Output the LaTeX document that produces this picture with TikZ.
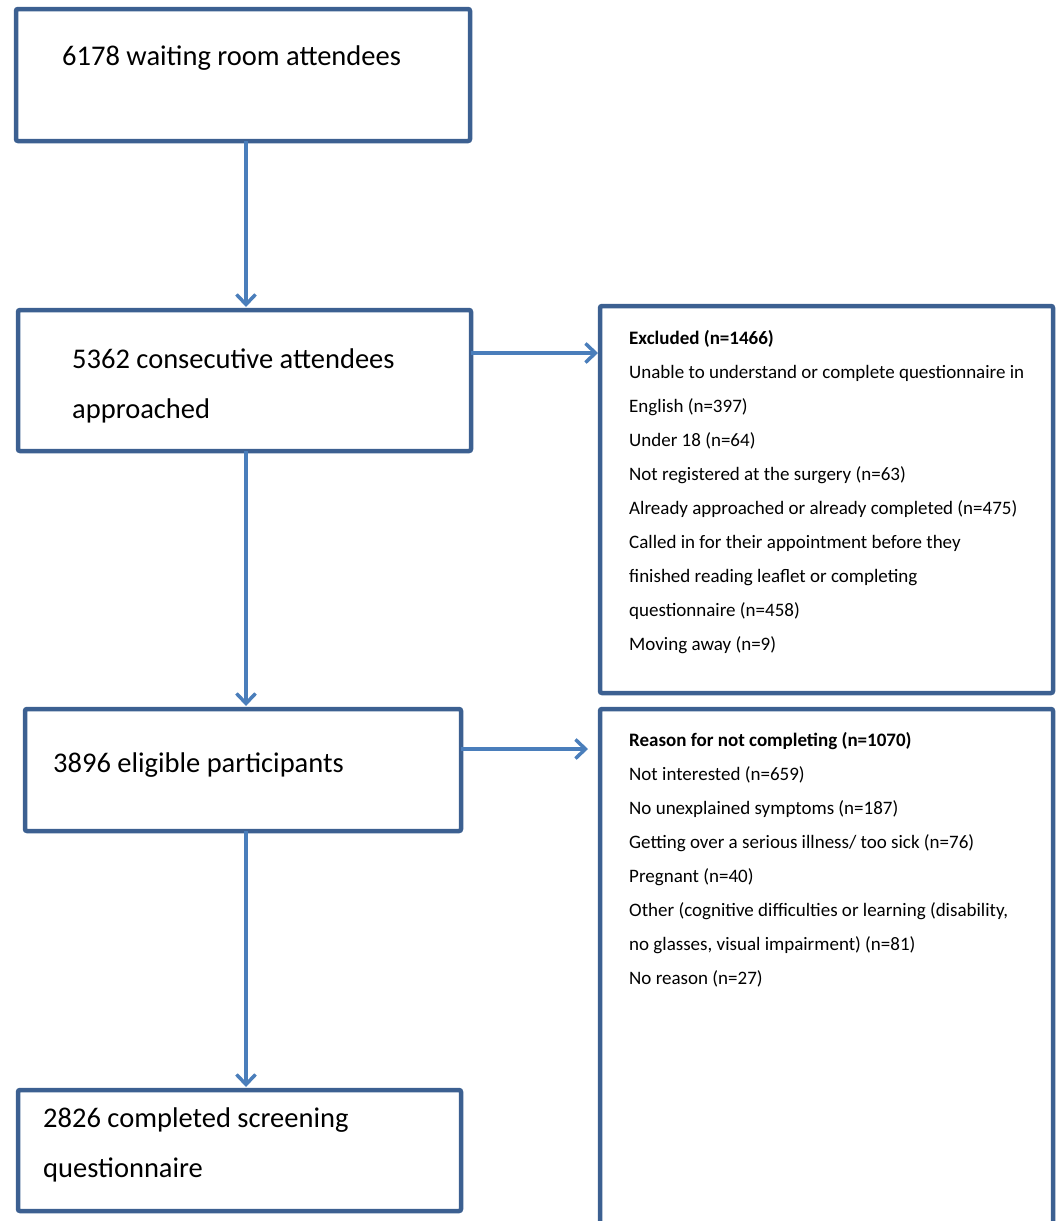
\documentclass[tikz,border=0pt]{standalone}
\usepackage{fontspec}
\setmainfont{Carlito}
\usetikzlibrary{arrows.meta}
\definecolor{boxblue}{RGB}{60,96,145}
\definecolor{arrowblue}{RGB}{74,126,187}
\tikzstyle{box}=[rectangle, draw=boxblue, line width=4.5pt,
                 rounded corners=2pt, inner sep=0pt, outer sep=0pt]
\tikzstyle{edge}=[draw=arrowblue, line width=3.5pt,
                  -{Straight Barb[length=10pt,width=19pt]}]
\tikzstyle{big}=[anchor=base west, inner sep=0pt,
                 font=\fontsize{28.5}{50}\selectfont]
\tikzstyle{small}=[anchor=base west, inner sep=0pt,
                   font=\fontsize{19}{34}\selectfont]
\begin{document}
\begin{tikzpicture}[x=1pt, y=-1pt]
    \useasboundingbox (0,0) rectangle (1063,1221);

    % main flow
    \node (att) at (243,75)      [box, minimum width=454, minimum height=132]{};
    \node (appr) at (244.5,380.5) [box, minimum width=453, minimum height=141]{};
    \node (elig) at (243,770)    [box, minimum width=436, minimum height=122]{};
    \node (done) at (239.5,1150.5) [box, minimum width=443, minimum height=121]{};

    % side boxes
    \node (excl) at (826.5,499.5) [box, minimum width=453, minimum height=387]{};
    \node (why) at (826.5,974.5)  [box, minimum width=453, minimum height=531]{};

    \node (attT) at (62,65) [big]{6178 waiting room attendees};
    \node (apprT) at (72,368) [big]{5362 consecutive attendees};
    \node (apprU) at (72,418) [big]{approached};
    \node (eligT) at (53,772) [big]{3896 eligible participants};
    \node (doneT) at (43,1127) [big]{2826 completed screening};
    \node (doneU) at (43,1177) [big]{questionnaire};

    \node (exclH) at (629,344) [small]{\bfseries Excluded (n=1466)};
    \foreach \t [count=\i from 0] in {Unable to understand or complete questionnaire in,
        English (n=397), Under 18 (n=64), Not registered at the surgery (n=63),
        Already approached or already completed (n=475),
        Called in for their appointment before they,
        finished reading leaflet or completing, questionnaire (n=458),
        Moving away (n=9)}
      \node (excl\i) at (629,378+34*\i) [small]{\t};

    \node (whyH) at (629,746) [small]{\bfseries Reason for not completing (n=1070)};
    \foreach \t [count=\i from 0] in {Not interested (n=659),
        No unexplained symptoms (n=187),
        Getting over a serious illness/ too sick (n=76), Pregnant (n=40),
        {Other (cognitive difficulties or learning (disability,},
        {no glasses, visual impairment) (n=81)}, No reason (n=27)}
      \node (why\i) at (629,780+34*\i) [small]{\t};

    % connectors
    \coordinate (spine) at (246,0);
    \foreach \u/\v in {att/appr,appr/elig,elig/done}
      \draw [edge, shorten >=3pt] (\u.south -| spine) to (\v.north -| spine);
    \draw [edge, shorten >=2pt] ([yshift=27.5pt]appr.east) to ([yshift=27.5pt]appr.east -| excl.west);
    \draw [edge, shorten >=12pt] ([yshift=21pt]elig.east) to ([yshift=21pt]elig.east -| why.west);
\end{tikzpicture}
\end{document}
